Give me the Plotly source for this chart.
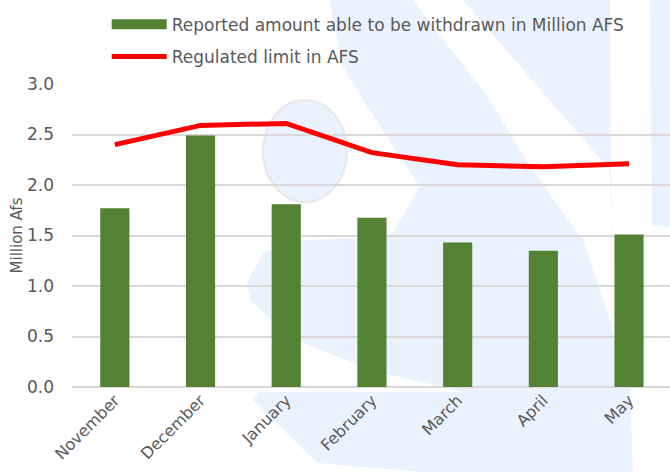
import plotly.graph_objects as go

months = ["November", "December", "January", "February", "March", "April", "May"]
withdrawn = [1.77, 2.49, 1.81, 1.675, 1.43, 1.35, 1.51]
limit = [2.40, 2.59, 2.61, 2.32, 2.20, 2.18, 2.21]
bar_name = "Reported amount able to be withdrawn in Million AFS"
line_name = "Regulated limit in AFS"

FONT = "DejaVu Sans"
TXT = "#595959"
WM = "#EAF2FD"

# plot area geometry (pixels) used to place the decorative watermark
L, R, T, B = 72, 670, 84, 387
def px(x):
    return (x - L) / (R - L)
def py(y):
    return (B - y) / (B - T)
def path(pts):
    s = "M " + " L ".join(f"{px(x):.4f},{py(y):.4f}" for x, y in pts) + " Z"
    return s

fig = go.Figure()
fig.add_trace(go.Bar(x=months, y=withdrawn, marker=dict(color="#548235", line=dict(width=0)),
                     showlegend=False, width=0.34))
fig.add_trace(go.Scatter(x=months, y=limit, mode="lines", line=dict(color="#FF0000", width=5),
                         showlegend=False))
# legend entries
fig.add_trace(go.Scatter(x=[None], y=[None], mode="lines", line=dict(color="#548235", width=12),
                         name=bar_name, legendgroup="a"))
fig.add_trace(go.Scatter(x=[None], y=[None], mode="lines", line=dict(color="#FF0000", width=5),
                         name=line_name, legendgroup="b"))

shapes = []
big = [(330, 0), (610, 0), (612, 330), (630, 387), (633, 472), (423, 472), (317, 463), (253, 400),
       (260, 392), (463, 392), (370, 370), (290, 337), (250, 300), (247, 283), (263, 253), (303, 240),
       (390, 237), (420, 187), (363, 100), (343, 67)]
stripe = [(413, 0), (463, 0), (610, 170), (613, 330), (583, 240), (530, 167), (490, 100)]
right = [(650, 0), (672, 0), (672, 227), (652, 225)]
shapes.append(dict(type="path", xref="paper", yref="paper", path=path(big), fillcolor=WM,
                   line=dict(width=0), layer="below"))
shapes.append(dict(type="path", xref="paper", yref="paper", path=path(stripe), fillcolor="white",
                   line=dict(width=0), layer="below"))
shapes.append(dict(type="path", xref="paper", yref="paper", path=path(right), fillcolor=WM,
                   line=dict(width=0), layer="below"))
shapes.append(dict(type="circle", xref="paper", yref="paper", x0=px(263), x1=px(347), y0=py(202), y1=py(100),
                   fillcolor=WM, line=dict(color="#E8E8E8", width=2), layer="below"))

fig.update_layout(
    width=670, height=472,
    margin=dict(l=72, r=0, t=84, b=85),
    paper_bgcolor="white", plot_bgcolor="rgba(0,0,0,0)",
    font=dict(family=FONT, color=TXT, size=16),
    shapes=shapes,
    bargap=0.66,
    showlegend=True,
    legend=dict(x=0.058, y=1.255, xanchor="left", yanchor="top", bgcolor="rgba(0,0,0,0)",
                font=dict(size=17, color=TXT), itemwidth=55, tracegroupgap=7,
                traceorder="grouped"),
    xaxis=dict(range=[-0.5, 6.478], tickangle=-45, showgrid=False, showline=False,
               ticks="", tickfont=dict(size=16, color=TXT)),
    yaxis=dict(range=[0, 3.0], dtick=0.5, tickformat=".1f", showgrid=True, gridcolor="#D9D9D9",
               gridwidth=1.5, zeroline=True, zerolinecolor="#D9D9D9", zerolinewidth=1.5,
               showline=False, ticks="", tickfont=dict(size=17, color=TXT), ticklabelstandoff=17,
               title=dict(text="Million Afs", font=dict(size=15, color=TXT), standoff=0)),
)

fig.write_html("out.html", config={"displayModeBar": False},
               post_script="document.body.style.margin='0';")
